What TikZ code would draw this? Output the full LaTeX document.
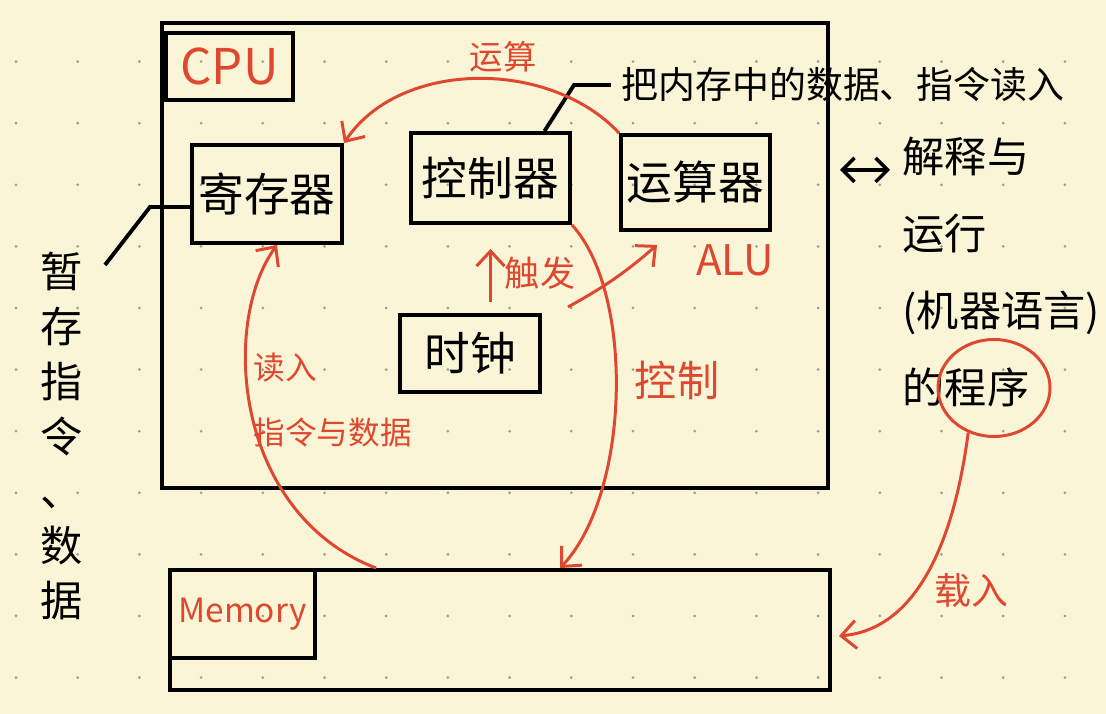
\documentclass[tikz,border=0pt]{standalone}
\usepackage{fontspec}
\newfontfamily\cjk{Noto Sans CJK SC}
\usepackage{tikz}
\usetikzlibrary{shapes,arrows.meta}
\definecolor{paper}{RGB}{250,245,215}
\definecolor{dotgray}{RGB}{160,158,140}
\definecolor{pen}{RGB}{222,72,48}
\newcommand{\handsize}[2]{\cjk\fontsize{#1}{#2}\selectfont}

\begin{document}
\begin{tikzpicture}[
  unitbox/.style={draw, line width=1.1pt, inner sep=0pt},
  redflow/.style={pen, line width=0.85pt, -{Straight Barb[length=1.5mm,width=2.8mm]}},
  redlabel/.style={text=pen, inner sep=0pt}
]

 \useasboundingbox (0,0) rectangle (11.06,7.14);
 \fill [paper] (0,0) rectangle (11.06,7.14);

% dotted paper
\foreach \i in {0,...,17}
  \foreach \j in {1,...,11}
     \fill [dotgray] (0.16+0.617*\i, 7.14-0.616*\j) circle (0.015);

% CPU and its parts
 \node (cpu) at (4.95, 4.585) [unitbox, minimum width=6.66cm, minimum height=4.65cm] {};
 \node (cpulabel) at (2.295, 6.475) [unitbox, minimum width=1.27cm, minimum height=0.67cm, text=pen, font=\handsize{14}{16}] {CPU};

         \node (reg) at (2.67, 5.20) [unitbox, minimum width=1.50cm, minimum height=0.98cm, font=\handsize{13}{16}] {寄存器};
         \node (ctrl) at (4.905, 5.36) [unitbox, minimum width=1.59cm, minimum height=0.90cm, font=\handsize{13}{16}] {控制器};
         \node (alu) at (6.955, 5.315) [unitbox, minimum width=1.49cm, minimum height=0.95cm, font=\handsize{13}{16}] {运算器};
         \node (clock) at (4.70, 3.605) [unitbox, minimum width=1.40cm, minimum height=0.77cm, font=\handsize{13}{16}] {时钟};

% memory
 \node (mem) at (5.00, 0.84) [unitbox, minimum width=6.60cm, minimum height=1.20cm] {};
 \node (memlabel) at (2.425, 1.00) [unitbox, minimum width=1.45cm, minimum height=0.88cm, text=pen, font=\handsize{9.5}{11}] {Memory};

% black notes
 \node (note) at (0.62, 2.78) [align=center, font=\handsize{12}{15.6}] {暂\\存\\指\\令\\、\\数\\据};
 \node (loadtext) at (8.43, 6.29) [inner sep=1mm, font=\handsize{10.5}{12}] {把内存中的数据、指令读入};
 \node (prog) at (9.02, 4.42) [anchor=west, align=left, inner sep=0pt, font=\handsize{12}{21.9}] {解释与\\运行\\(机器语言)\\的程序};
 \node (ring) at (9.94, 3.26) [ellipse, draw=pen, line width=0.85pt, minimum width=1.12cm, minimum height=0.97cm] {};

% red labels
          \node (opslabel) at (5.03, 6.57) [redlabel, font=\handsize{9.5}{11}] {运算};
          \node (readlabel) at (2.53, 3.14) [redlabel, anchor=west, align=left, font=\handsize{9}{18.5}] {读入\\指令与数据};
          \node (triglabel) at (5.40, 4.41) [redlabel, font=\handsize{10}{12}] {触发};
          \node (alutag) at (7.35, 4.54) [redlabel, font=\handsize{12}{14}] {ALU};
          \node (ctrllabel) at (6.77, 3.34) [redlabel, font=\handsize{12}{14}] {控制};
          \node (loadlabel) at (9.71, 1.23) [redlabel, font=\handsize{10.5}{12}] {载入};

 \coordinate (regbend) at (1.50, 5.07);
 \coordinate (regtail) at (1.05, 4.49);
 \coordinate (ctrlbend) at (5.74, 6.29);
 \coordinate (trig) at (4.905, 4.12);
 \coordinate (tickfrom) at (5.68, 4.07);
 \coordinate (tickto) at (6.57, 4.69);
 \coordinate (lrleft) at (8.40, 5.44);
 \coordinate (lrright) at (8.90, 5.44);

% black leaders
\draw [line width=1.1pt] ([yshift=-0.13cm]reg.west) -- (regbend) -- (regtail);
\draw [line width=1.1pt] ([xshift=0.54cm]ctrl.north) -- (ctrlbend) -- (loadtext.west);
\draw [line width=1pt, {Straight Barb[length=1.2mm,width=2.4mm]}-{Straight Barb[length=1.2mm,width=2.4mm]}] (lrleft) -- (lrright);

% red flows
\draw [redflow] (alu.north west) .. controls (5.5, 6.55) and (4.0, 6.55) .. (reg.north east);
\draw [redflow] ([xshift=2.08cm]mem.north west) .. controls (2.35, 2.0) and (2.2, 3.9) .. ([xshift=0.1cm]reg.south);
\draw [redflow, shorten >=0.24cm] (trig) -- (ctrl.south);
\draw [redflow] (tickfrom) to[bend right=6] (tickto);
\draw [redflow] (ctrl.south east) .. controls (6.35, 4.2) and (6.3, 2.2) .. ([xshift=3.92cm]mem.north west);
\draw [redflow] (ring.240) .. controls (9.55, 1.8) and (9.2, 0.85) .. ([xshift=0.07cm,yshift=-0.06cm]mem.east);

\end{tikzpicture}
\end{document}
